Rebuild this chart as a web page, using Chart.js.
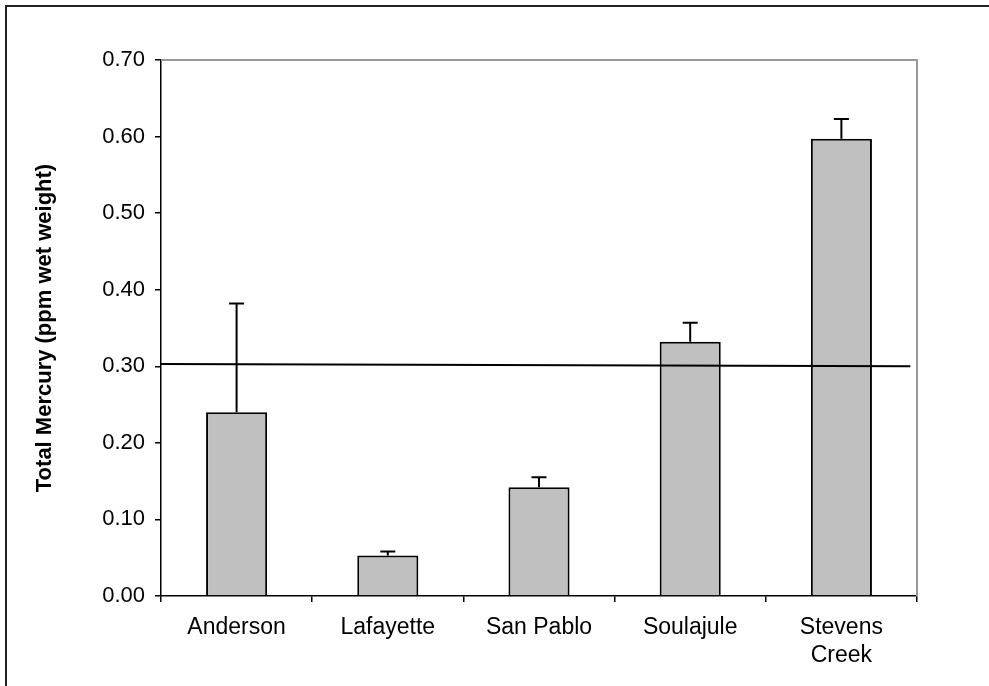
<!DOCTYPE html>
<html>
<head>
<meta charset="utf-8">
<script src="https://cdn.jsdelivr.net/npm/chart.js@4"></script>
<style>
  html, body { margin: 0; padding: 0; background: #fff; overflow: hidden; }
  #wrap { position: relative; width: 989px; height: 686px; }
  #frame { position: absolute; left: 5px; top: 5px; width: 1100px; height: 800px;
           border-top: 2px solid #222; border-left: 2px solid #222; }
  canvas { position: absolute; left: 0; top: 0; }
</style>
</head>
<body>
<div id="wrap">
  <div id="frame"></div>
  <canvas id="hgChart" width="989" height="686"></canvas>
</div>
<script>
// Sites and mean total mercury (ppm wet weight)
const sites = ['Anderson', 'Lafayette', 'San Pablo', 'Soulajule', ['Stevens', 'Creek']];
const mercury = [0.240, 0.053, 0.142, 0.332, 0.597];
const errorUp = [0.142, 0.005, 0.013, 0.025, 0.026];

// 0.30 ppm guideline line (drawn on a hidden linear axis)
const refLineX = [-0.5, 4.456];
const refLineY = [0.303, 0.300];

const yTicks = [0, 0.1, 0.2, 0.3, 0.4, 0.5, 0.6, 0.7];

// ====== Error bars (upper only) ======
const errorBars = {
    id: 'errorBars',
    afterDatasetsDraw(chart) {
        const ctx = chart.ctx;
        const yScale = chart.scales.y;
        const meta = chart.getDatasetMeta(0);
        ctx.save();
        ctx.strokeStyle = '#000';
        ctx.lineWidth = 2;
        meta.data.forEach((bar, i) => {
            const top = yScale.getPixelForValue(mercury[i] + errorUp[i]);
            ctx.beginPath();
            ctx.moveTo(bar.x, bar.y);
            ctx.lineTo(bar.x, top);
            ctx.moveTo(bar.x - 7.5, top);
            ctx.lineTo(bar.x + 7.5, top);
            ctx.stroke();
        });
        ctx.restore();
    }
};

// ====== Gray plot frame on top and right ======
const plotFrame = {
    id: 'plotFrame',
    beforeDatasetsDraw(chart) {
        const { ctx, chartArea: a } = chart;
        ctx.save();
        ctx.strokeStyle = '#999';
        ctx.lineWidth = 2;
        ctx.beginPath();
        ctx.moveTo(a.left, a.top);
        ctx.lineTo(a.right, a.top);
        ctx.lineTo(a.right, a.bottom);
        ctx.stroke();
        ctx.restore();
    }
};

const ctx = document.getElementById('hgChart').getContext('2d');
new Chart(ctx, {
    type: 'bar',
    data: {
        labels: sites,
        datasets: [{
            type: 'bar',
            data: mercury,
            backgroundColor: '#c0c0c0',
            borderColor: '#000',
            borderWidth: 2,
            barPercentage: 0.404,
            categoryPercentage: 1,
            grouped: false,
            order: 1
        }, {
            type: 'line',
            xAxisID: 'xLine',
            data: refLineX.map((x, i) => ({ x: x, y: refLineY[i] })),
            borderColor: '#000',
            borderWidth: 2,
            pointRadius: 0,
            fill: false,
            order: 0
        }]
    },
    options: {
        responsive: false,
        devicePixelRatio: 1,
        animation: false,
        layout: { padding: { left: 0, top: 60, right: 72, bottom: 0 } },
        plugins: { legend: { display: false }, tooltip: { enabled: false } },
        scales: {
            x: {
                type: 'category',
                offset: true,
                afterFit: (s) => { s.height = 90; },
                grid: { drawOnChartArea: false, offset: true, tickLength: 6, color: '#000', lineWidth: 1.5 },
                border: { color: '#000', width: 1.5 },
                ticks: {
                    color: '#000',
                    padding: 12,
                    maxRotation: 0,
                    font: { family: 'Liberation Sans, Arial', size: 23, lineHeight: 1.22 }
                }
            },
            xLine: {
                type: 'linear',
                display: false,
                offset: false,
                min: -0.5,
                max: 4.5
            },
            y: {
                min: 0,
                max: 0.7,
                afterFit: (s) => { s.width = 161; },
                afterBuildTicks: (s) => { s.ticks = yTicks.map(v => ({ value: v })); },
                grid: { drawOnChartArea: false, tickLength: 6, color: '#000', lineWidth: 1.5 },
                border: { color: '#000', width: 1.5 },
                ticks: {
                    color: '#000',
                    padding: 10,
                    font: { family: 'Liberation Sans, Arial', size: 22 },
                    callback: (v) => Number(v).toFixed(2)
                },
                title: {
                    display: true,
                    text: 'Total Mercury (ppm wet weight)',
                    color: '#000',
                    padding: { top: 32, bottom: 0 },
                    font: { family: 'Liberation Sans, Arial', size: 22, weight: 'bold' }
                }
            }
        }
    },
    plugins: [plotFrame, errorBars]
});
</script>
</body>
</html>
